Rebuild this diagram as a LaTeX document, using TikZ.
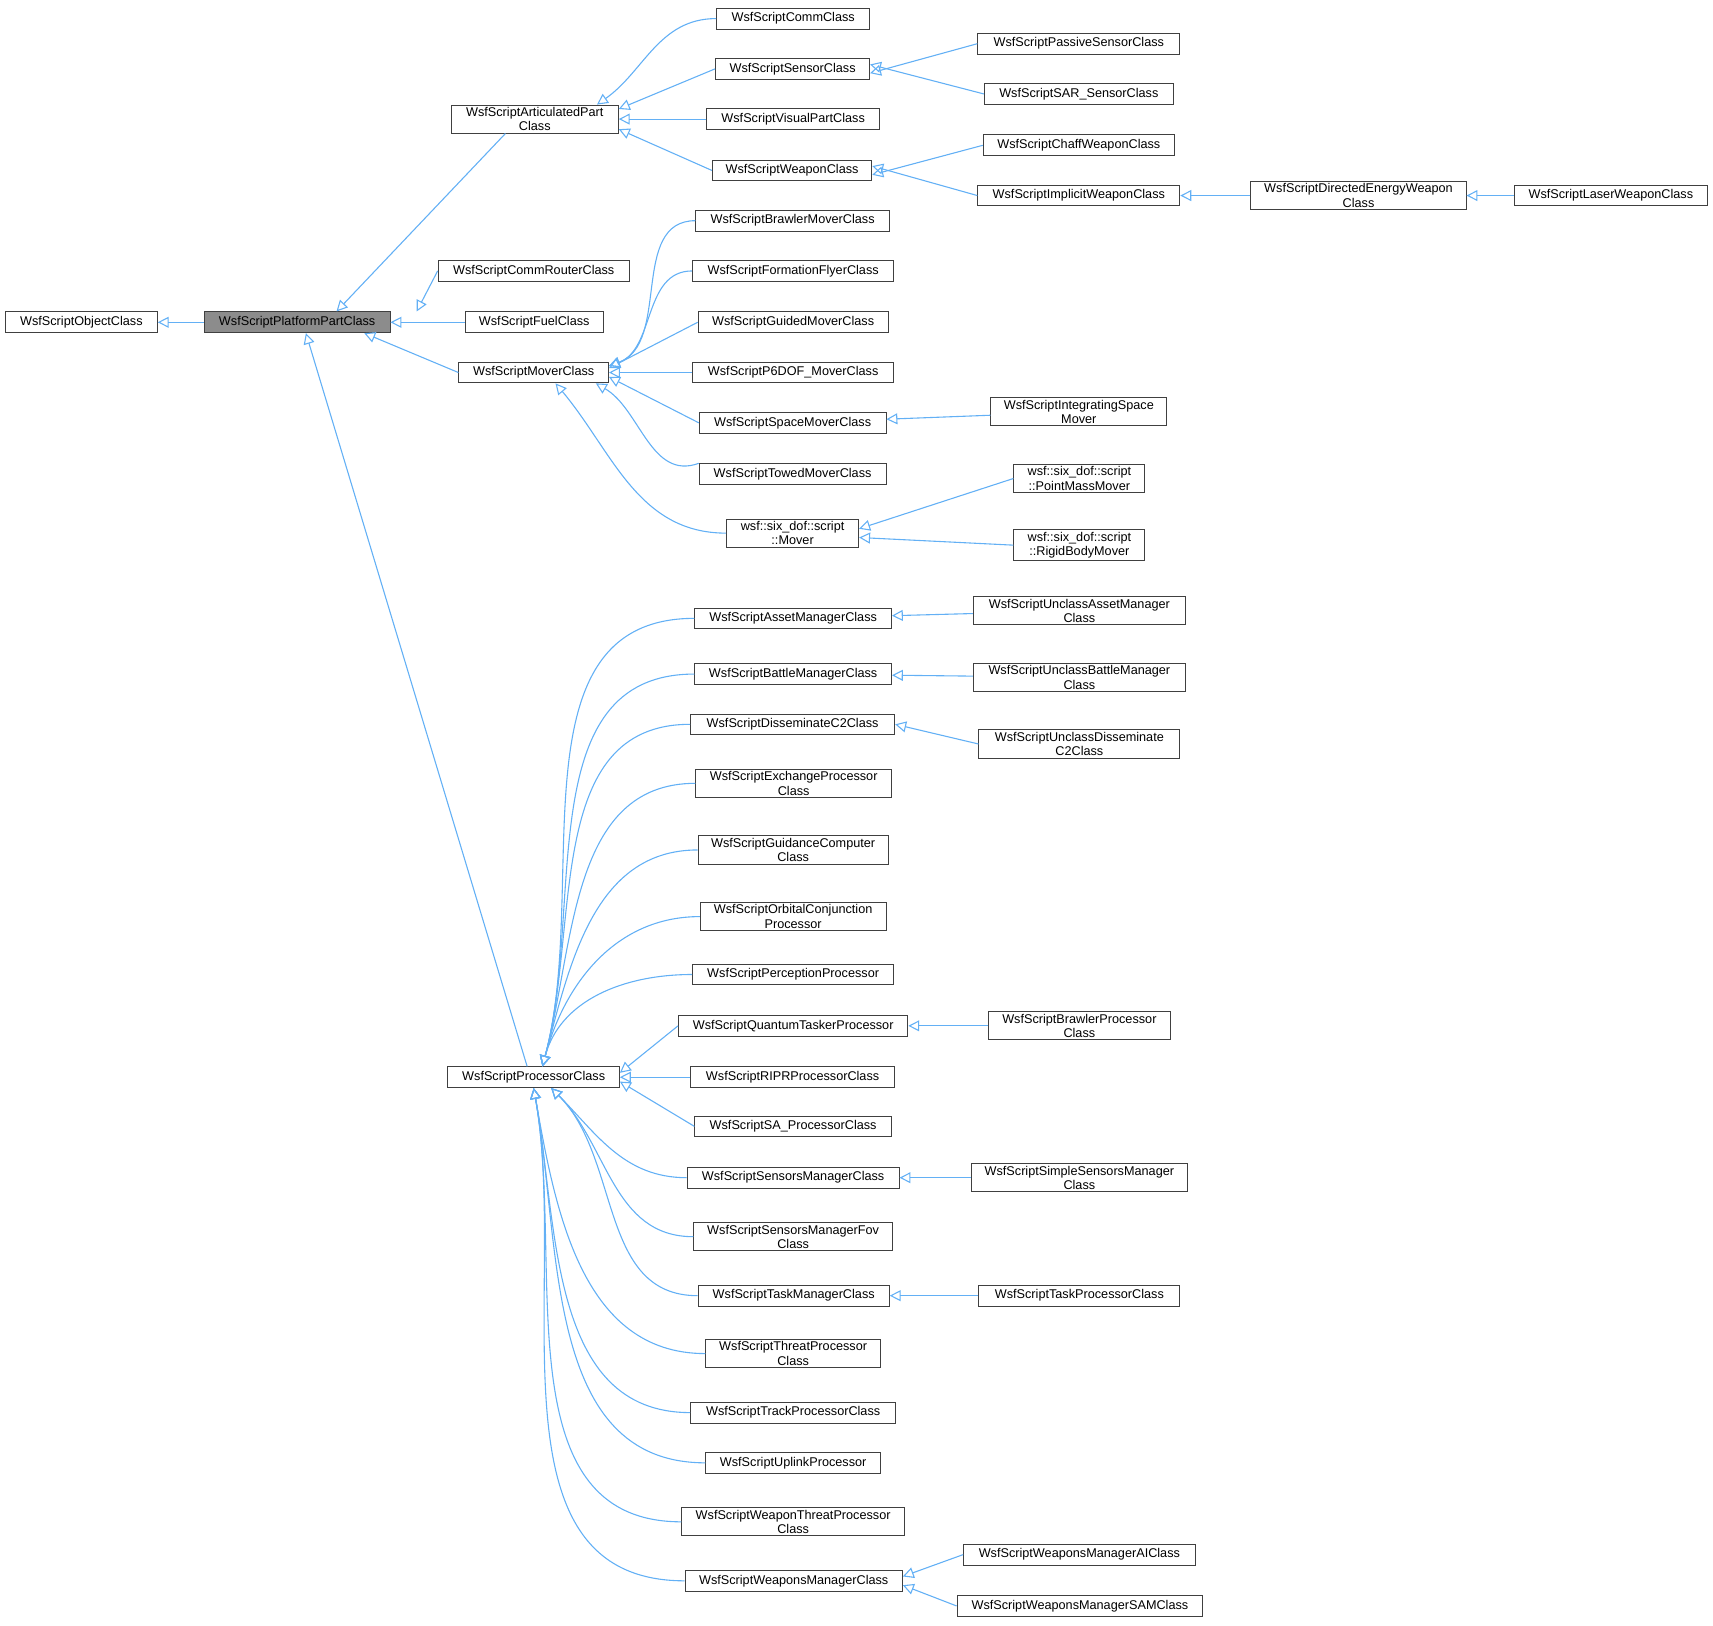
\documentclass[tikz,border=0pt]{standalone}
\usepackage{fontspec}
\setmainfont{Liberation Sans}
\usetikzlibrary{arrows.meta}
\definecolor{linkblue}{HTML}{63B0F5}
\tikzset{
  cls/.style={draw=black!75, line width=0.4pt, fill=white, align=center,
    font=\fontsize{5.8}{6.6}\selectfont, inner sep=1pt, minimum height=9.5pt},
  base/.style={cls, fill=black!45},
  edge/.style={draw=linkblue, line width=0.5pt, -{Triangle[open, length=5pt, width=5pt]}}
}
% class box: name, x, y, width (px)
\newcommand{\cls}[6][cls]{\node[#1, minimum width=#5*0.5pt] (#2) at (#3,-#4) {#6};}
\begin{document}
\begin{tikzpicture}[x=0.5pt,y=0.5pt]
\useasboundingbox (0,0) rectangle (1568,-1488);
% left column
\cls{obj}{74.5}{295}{139}{WsfScriptObjectClass}
\cls[base]{pp}{272}{295}{170}{WsfScriptPlatformPartClass}
\cls{art}{489.5}{109}{153}{WsfScriptArticulatedPart\\Class}
\cls{router}{488.5}{248}{175}{WsfScriptCommRouterClass}
\cls{fuel}{489}{295}{126}{WsfScriptFuelClass}
\cls{mover}{488.5}{341}{137}{WsfScriptMoverClass}
\cls{proc}{488.5}{986}{157}{WsfScriptProcessorClass}
% articulated parts
\cls{comm}{726}{17}{140}{WsfScriptCommClass}
\cls{sensor}{725.5}{63}{141}{WsfScriptSensorClass}
\cls{visual}{726}{109}{158}{WsfScriptVisualPartClass}
\cls{weapon}{725}{156}{146}{WsfScriptWeaponClass}
\cls{passive}{987.5}{40}{185}{WsfScriptPassiveSensorClass}
\cls{sar}{987.5}{86}{173}{WsfScriptSAR\_SensorClass}
\cls{chaff}{987.5}{133}{175}{WsfScriptChaffWeaponClass}
\cls{implicit}{987.5}{179}{185}{WsfScriptImplicitWeaponClass}
\cls{directed}{1243.5}{179}{197}{WsfScriptDirectedEnergyWeapon\\Class}
\cls{laser}{1474.5}{179}{177}{WsfScriptLaserWeaponClass}
% movers
\cls{brawlermv}{725.5}{202}{177}{WsfScriptBrawlerMoverClass}
\cls{formation}{726}{248}{184}{WsfScriptFormationFlyerClass}
\cls{guided}{726}{295}{174}{WsfScriptGuidedMoverClass}
\cls{psixdof}{726}{341}{184}{WsfScriptP6DOF\_MoverClass}
\cls{space}{725.5}{387}{171}{WsfScriptSpaceMoverClass}
\cls{towed}{725.5}{434}{171}{WsfScriptTowedMoverClass}
\cls{sdmover}{725.5}{488}{121}{wsf::six\_dof::script\\::Mover}
\cls{integrating}{987.5}{377}{161}{WsfScriptIntegratingSpace\\Mover}
\cls{pointmass}{988}{438}{120}{wsf::six\_dof::script\\::PointMassMover}
\cls{rigid}{988}{499}{120}{wsf::six\_dof::script\\::RigidBodyMover}
% processors
\cls{asset}{726}{566}{180}{WsfScriptAssetManagerClass}
\cls{battle}{726}{617}{180}{WsfScriptBattleManagerClass}
\cls{dissem}{725.5}{663}{187}{WsfScriptDisseminateC2Class}
\cls{exchange}{726.5}{717}{179}{WsfScriptExchangeProcessor\\Class}
\cls{guidance}{726}{778}{174}{WsfScriptGuidanceComputer\\Class}
\cls{orbital}{726}{839}{170}{WsfScriptOrbitalConjunction\\Processor}
\cls{perception}{726}{892}{184}{WsfScriptPerceptionProcessor}
\cls{quantum}{726}{939}{210}{WsfScriptQuantumTaskerProcessor}
\cls{ripr}{725.5}{986}{187}{WsfScriptRIPRProcessorClass}
\cls{sa}{726}{1031}{180}{WsfScriptSA\_ProcessorClass}
\cls{sensmgr}{726}{1078}{194}{WsfScriptSensorsManagerClass}
\cls{sensfov}{726}{1132}{182}{WsfScriptSensorsManagerFov\\Class}
\cls{taskmgr}{726.5}{1186}{175}{WsfScriptTaskManagerClass}
\cls{threat}{726}{1239}{160}{WsfScriptThreatProcessor\\Class}
\cls{track}{726}{1293}{188}{WsfScriptTrackProcessorClass}
\cls{uplink}{726}{1339}{160}{WsfScriptUplinkProcessor}
\cls{wthreat}{726}{1393}{204}{WsfScriptWeaponThreatProcessor\\Class}
\cls{wmgr}{726.5}{1447}{199}{WsfScriptWeaponsManagerClass}
\cls{uasset}{988}{559}{194}{WsfScriptUnclassAssetManager\\Class}
\cls{ubattle}{988}{620}{194}{WsfScriptUnclassBattleManager\\Class}
\cls{udissem}{988}{681}{184}{WsfScriptUnclassDisseminate\\C2Class}
\cls{brawlerproc}{988}{939}{166}{WsfScriptBrawlerProcessor\\Class}
\cls{simplesens}{988}{1078}{198}{WsfScriptSimpleSensorsManager\\Class}
\cls{taskproc}{988}{1186}{184}{WsfScriptTaskProcessorClass}
\cls{wmgrai}{988}{1423}{212}{WsfScriptWeaponsManagerAIClass}
\cls{wmgrsam}{988.5}{1470}{225}{WsfScriptWeaponsManagerSAMClass}
% inheritance
\draw[edge] (pp) -- (obj);
\draw[edge] (art.south west) ++(50,0) -- ([xshift=18pt]pp.north);
\draw[edge] (router.west) -- ([xshift=12pt]pp.north east);
\draw[edge] (fuel) -- (pp);
\draw[edge] (mover.west) -- ([xshift=-12pt]pp.south east);
\draw[edge] ([xshift=-3pt]proc.north) -- ([xshift=4pt]pp.south);
\draw[edge] (comm.west) to[out=180,in=35] ([xshift=-10pt]art.north east);
\draw[edge] (sensor.west) -- ([yshift=-2pt]art.north east);
\draw[edge] (visual) -- (art);
\draw[edge] (weapon.west) -- ([yshift=2pt]art.south east);
\draw[edge] (passive.west) -- ([yshift=-2pt]sensor.east);
\draw[edge] (sar.west) -- ([yshift=2pt]sensor.east);
\draw[edge] (chaff.west) -- ([yshift=-2pt]weapon.east);
\draw[edge] (implicit.west) -- ([yshift=2pt]weapon.east);
\draw[edge] (directed) -- (implicit);
\draw[edge] (laser) -- (directed);
\foreach \c in {brawlermv,formation}
  \draw[edge] (\c.west) to[out=180,in=20] ([yshift=3pt]mover.east);
\draw[edge] (guided.west) -- ([yshift=2pt]mover.east);
\draw[edge] (psixdof) -- (mover);
\draw[edge] (space.west) -- ([yshift=-2pt]mover.east);
\draw[edge] (towed.north west) to[out=200,in=-30] ([xshift=-6pt]mover.south east);
\draw[edge] (sdmover.west) to[out=180,in=-50] ([xshift=10pt]mover.south);
\draw[edge] (integrating) -- (space);
\draw[edge] (pointmass.west) -- ([yshift=2pt]sdmover.east);
\draw[edge] (rigid.west) -- ([yshift=-2pt]sdmover.east);
\foreach \c in {asset,battle,dissem,exchange,guidance,orbital,perception}
  \draw[edge] (\c.west) to[out=180,in=75] ([xshift=4pt]proc.north);
\draw[edge] (quantum.west) -- ([yshift=2pt]proc.east);
\draw[edge] (ripr) -- (proc);
\draw[edge] (sa.west) -- ([yshift=-2pt]proc.east);
\foreach \c in {sensmgr,sensfov,taskmgr}
  \draw[edge] (\c.west) to[out=180,in=-45] ([xshift=8pt]proc.south);
\foreach \c in {threat,track,uplink,wthreat,wmgr}
  \draw[edge] (\c.west) to[out=180,in=-80] (proc.south);
\draw[edge] (uasset) -- (asset);
\draw[edge] (ubattle) -- (battle);
\draw[edge] (udissem.west) -- (dissem.east);
\draw[edge] (brawlerproc) -- (quantum);
\draw[edge] (simplesens) -- (sensmgr);
\draw[edge] (taskproc) -- (taskmgr);
\draw[edge] (wmgrai.west) -- ([yshift=2pt]wmgr.east);
\draw[edge] (wmgrsam.west) -- ([yshift=-2pt]wmgr.east);
\end{tikzpicture}
\end{document}
